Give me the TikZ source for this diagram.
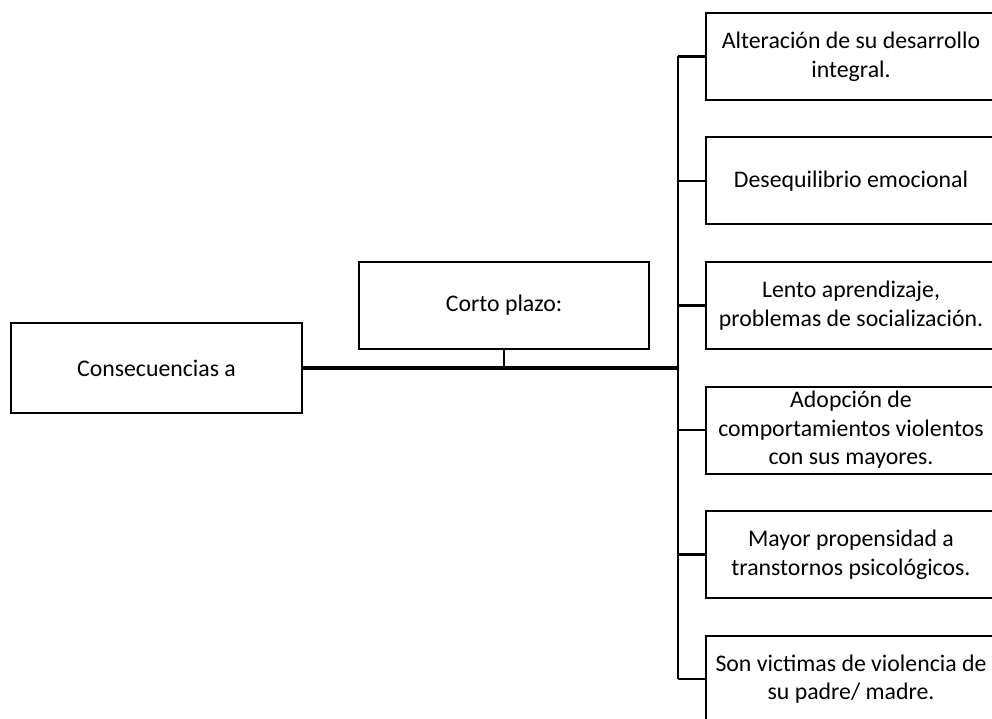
\documentclass[tikz,border=0pt]{standalone}
\usepackage{fontspec}
\setmainfont{Carlito}
\begin{document}
\begin{tikzpicture}[x=1pt,y=-1pt,
  box/.style={draw=black,line width=2pt,fill=white,align=center,inner sep=0pt,
    font=\fontsize{23.8}{28.6}\selectfont},
  lbox/.style={box,minimum width=291pt,minimum height=90pt},
  mbox/.style={box,minimum width=290pt,minimum height=87pt},
  rbox/.style={box,minimum width=290pt,minimum height=87pt},
  conn/.style={draw=black,line width=2.5pt},
  mainconn/.style={draw=black,line width=3.5pt}]
\clip (0,0) rectangle (992,719);
\fill[white] (0,0) rectangle (992,719);
\coordinate (bus) at (678,368);
\node[lbox] (left) at (156.5,368) {Consecuencias a};
\node[mbox] (mid) at (504,305.5) {Corto plazo:};
\node[rbox] (b1) at (851,56.5) {Alteración de su desarrollo\\integral.};
\node[rbox] (b2) at (851,181) {Desequilibrio emocional};
\node[rbox] (b3) at (851,305.5) {Lento aprendizaje,\\problemas de socialización.};
\node[rbox] (b4) at (851,430) {Adopción de\\comportamientos violentos\\con sus mayores.};
\node[rbox] (b5) at (851,554.5) {Mayor propensidad a\\transtornos psicológicos.};
\node[rbox] (b6) at (851,679) {Son victimas de violencia de\\su padre/ madre.};
\draw[mainconn] (left.east) -- (bus);
\draw[conn] (mid.south) -- (mid.south |- bus);
\draw[conn] (b1.west -| bus) -- (b6.west -| bus);
\foreach \b in {b1,b2,b3,b4,b5,b6}{
  \draw[conn] (\b.west) -- (\b.west -| bus);
}
\end{tikzpicture}
\end{document}
